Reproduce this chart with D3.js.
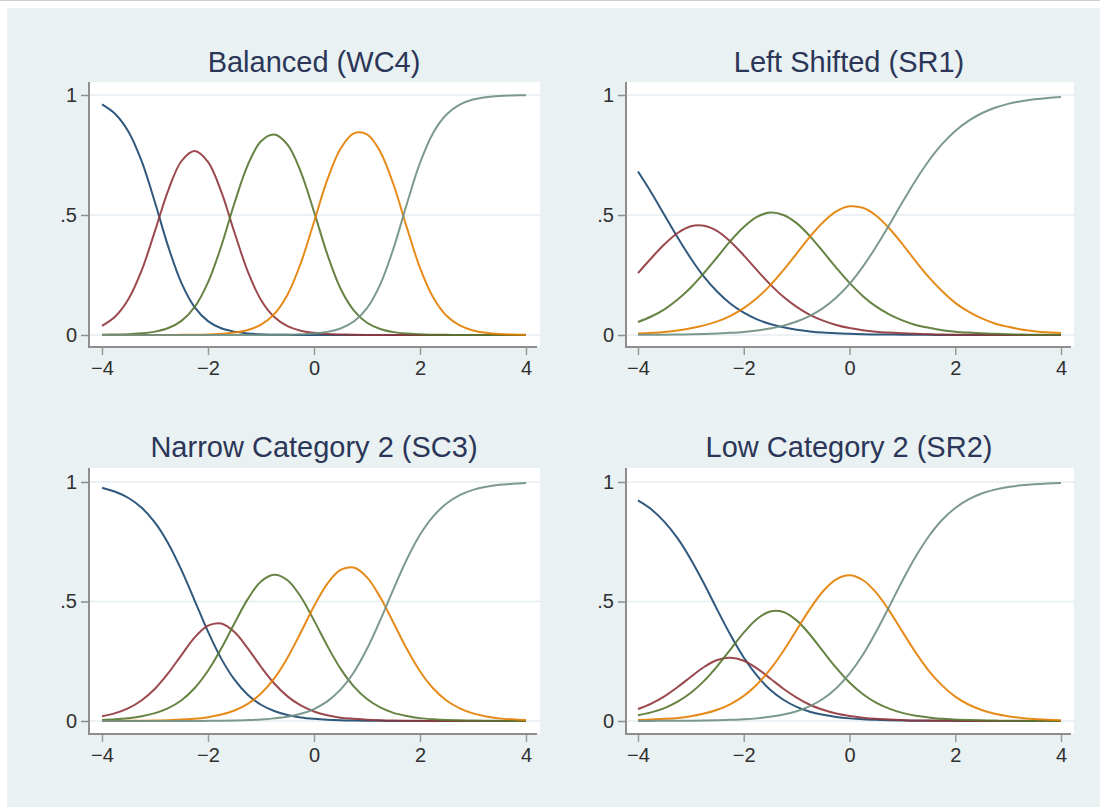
<!DOCTYPE html>
<html><head><meta charset="utf-8">
<script src="https://cdn.jsdelivr.net/npm/d3@7"></script>
<style>html,body{margin:0;padding:0;background:#fff;} svg{display:block;}</style>
</head><body><svg id="chart" width="1100" height="807"></svg>
<script>
// ---------------- DATA ----------------
const theta = [-4,-3.75,-3.5,-3.25,-3,-2.75,-2.5,-2.25,-2,-1.75,-1.5,-1.25,-1,-0.75,-0.5,-0.25,0,0.25,0.5,0.75,1,1.25,1.5,1.75,2,2.25,2.5,2.75,3,3.25,3.5,3.75,4];
const panelTitles = ["Balanced (WC4)", "Left Shifted (SR1)", "Narrow Category 2 (SC3)", "Low Category 2 (SR2)"];
const categories = ["Category 0", "Category 1", "Category 2", "Category 3", "Category 4"];
const xTicks = [-4, -2, 0, 2, 4];
const yTicks = [0, 0.5, 1];
const yTickLabels = ["0", ".5", "1"];

// Balanced (WC4)
const wc4Cat0 = [0.961,0.921,0.847,0.723,0.552,0.368,0.216,0.115,0.058,0.028,0.014,0.006,0.003,0.001,0.001,0,0,0,0,0,0,0,0,0,0,0,0,0,0,0,0,0,0];
const wc4Cat1 = [0.038,0.077,0.150,0.270,0.434,0.603,0.725,0.767,0.721,0.597,0.427,0.265,0.146,0.075,0.037,0.018,0.009,0.004,0.002,0.001,0,0,0,0,0,0,0,0,0,0,0,0,0];
const wc4Cat2 = [0.001,0.002,0.003,0.007,0.014,0.029,0.059,0.117,0.219,0.370,0.550,0.708,0.807,0.835,0.793,0.680,0.514,0.337,0.194,0.103,0.051,0.025,0.012,0.006,0.003,0.001,0.001,0,0,0,0,0,0];
const wc4Cat3 = [0,0,0,0,0,0,0.001,0.001,0.002,0.005,0.010,0.021,0.043,0.087,0.168,0.299,0.471,0.646,0.776,0.840,0.836,0.764,0.627,0.449,0.280,0.156,0.080,0.040,0.019,0.009,0.004,0.002,0.001];
const wc4Cat4 = [0,0,0,0,0,0,0,0,0,0,0,0,0,0.001,0.001,0.003,0.006,0.013,0.027,0.056,0.112,0.211,0.361,0.545,0.717,0.843,0.919,0.960,0.981,0.991,0.996,0.998,0.999];

// Left Shifted (SR1)
const sr1Cat0 = [0.681,0.594,0.500,0.406,0.319,0.242,0.180,0.130,0.093,0.065,0.046,0.032,0.022,0.015,0.010,0.007,0.005,0.003,0.002,0.002,0.001,0.001,0.001,0,0,0,0,0,0,0,0,0,0];
const sr1Cat1 = [0.258,0.320,0.378,0.425,0.453,0.455,0.433,0.389,0.332,0.270,0.211,0.159,0.117,0.084,0.060,0.042,0.029,0.020,0.014,0.010,0.007,0.005,0.003,0.002,0.001,0.001,0.001,0,0,0,0,0,0];
const sr1Cat2 = [0.054,0.077,0.107,0.148,0.198,0.259,0.325,0.392,0.450,0.492,0.510,0.500,0.466,0.412,0.347,0.280,0.217,0.163,0.119,0.086,0.061,0.042,0.030,0.020,0.014,0.010,0.007,0.005,0.003,0.002,0.001,0.001,0.001];
const sr1Cat3 = [0.006,0.009,0.013,0.019,0.028,0.040,0.057,0.080,0.112,0.154,0.207,0.270,0.339,0.409,0.470,0.515,0.536,0.530,0.498,0.445,0.379,0.308,0.241,0.183,0.134,0.097,0.069,0.048,0.034,0.023,0.016,0.011,0.008];
const sr1Cat4 = [0.001,0.001,0.001,0.002,0.003,0.004,0.006,0.009,0.013,0.019,0.027,0.039,0.056,0.080,0.112,0.156,0.213,0.284,0.367,0.458,0.553,0.644,0.726,0.795,0.850,0.892,0.924,0.947,0.963,0.974,0.982,0.988,0.992];

// Narrow Category 2 (SC3)
const sc3Cat0 = [0.976,0.959,0.933,0.892,0.830,0.743,0.631,0.503,0.374,0.261,0.173,0.110,0.068,0.042,0.025,0.015,0.009,0.005,0.003,0.002,0.001,0.001,0,0,0,0,0,0,0,0,0,0,0];
const sc3Cat1 = [0.020,0.033,0.054,0.087,0.135,0.200,0.276,0.350,0.399,0.408,0.372,0.304,0.227,0.157,0.103,0.065,0.040,0.024,0.014,0.009,0.005,0.003,0.002,0.001,0.001,0,0,0,0,0,0,0,0];
const sc3Cat2 = [0.004,0.007,0.012,0.020,0.033,0.054,0.087,0.138,0.210,0.303,0.409,0.510,0.584,0.612,0.589,0.520,0.421,0.315,0.219,0.145,0.092,0.057,0.034,0.021,0.012,0.007,0.004,0.003,0.002,0.001,0.001,0,0];
const sc3Cat3 = [0,0,0.001,0.001,0.002,0.003,0.006,0.009,0.016,0.027,0.044,0.072,0.115,0.178,0.265,0.370,0.480,0.574,0.632,0.642,0.601,0.518,0.411,0.302,0.208,0.136,0.086,0.053,0.032,0.019,0.011,0.007,0.004];
const sc3Cat4 = [0,0,0,0,0,0,0,0,0.001,0.001,0.002,0.004,0.006,0.011,0.018,0.030,0.050,0.082,0.131,0.203,0.302,0.422,0.552,0.676,0.779,0.856,0.910,0.945,0.967,0.980,0.988,0.993,0.996];

// Low Category 2 (SR2)
const sr2Cat0 = [0.923,0.886,0.833,0.764,0.676,0.574,0.465,0.360,0.266,0.190,0.131,0.089,0.059,0.039,0.026,0.017,0.011,0.007,0.005,0.003,0.002,0.001,0.001,0.001,0,0,0,0,0,0,0,0,0];
const sr2Cat1 = [0.050,0.073,0.103,0.142,0.185,0.226,0.255,0.265,0.252,0.220,0.178,0.135,0.098,0.068,0.047,0.031,0.021,0.014,0.009,0.006,0.004,0.002,0.002,0.001,0.001,0,0,0,0,0,0,0,0];
const sr2Cat2 = [0.024,0.036,0.054,0.081,0.118,0.168,0.230,0.300,0.370,0.427,0.458,0.456,0.421,0.362,0.291,0.222,0.161,0.113,0.077,0.052,0.034,0.022,0.015,0.009,0.006,0.004,0.003,0.002,0.001,0.001,0,0,0];
const sr2Cat3 = [0.004,0.006,0.009,0.013,0.020,0.031,0.047,0.071,0.105,0.153,0.216,0.293,0.381,0.468,0.543,0.593,0.610,0.590,0.538,0.462,0.374,0.287,0.210,0.149,0.102,0.069,0.046,0.030,0.020,0.013,0.008,0.005,0.003];
const sr2Cat4 = [0,0,0.001,0.001,0.001,0.002,0.003,0.005,0.007,0.011,0.018,0.027,0.041,0.062,0.093,0.137,0.198,0.276,0.372,0.478,0.587,0.687,0.773,0.841,0.891,0.927,0.952,0.968,0.979,0.986,0.991,0.994,0.996];

const panelSeries = [
  [wc4Cat0, wc4Cat1, wc4Cat2, wc4Cat3, wc4Cat4],
  [sr1Cat0, sr1Cat1, sr1Cat2, sr1Cat3, sr1Cat4],
  [sc3Cat0, sc3Cat1, sc3Cat2, sc3Cat3, sc3Cat4],
  [sr2Cat0, sr2Cat1, sr2Cat2, sr2Cat3, sr2Cat4]
];

// ---------------- STYLE / LAYOUT ----------------
const seriesColors = ["#1a476f", "#90353b", "#55752f", "#e37e00", "#6e8e84"];
const colGeom = [
  {xr: [102, 526], box: [89, 540], titleX: 314},
  {xr: [638, 1061], box: [626, 1074], titleX: 849}
];
const rowGeom = [
  {yr: [335, 95], box: [82, 347], titleY: 72},
  {yr: [721, 482], box: [468, 734], titleY: 457}
];
const FONT = "'Liberation Sans', Arial, Helvetica, sans-serif";

const svg = d3.select("#chart");
svg.append("rect").attr("width", 1100).attr("height", 807).attr("fill", "#ffffff");
svg.append("line").attr("x1", 0).attr("x2", 1100).attr("y1", 0.5).attr("y2", 0.5)
  .attr("stroke", "#cfcfcf").attr("stroke-width", 1);
svg.append("rect").attr("x", 7).attr("y", 8).attr("width", 1093).attr("height", 799)
  .attr("fill", "#e9f1f3");

panelTitles.forEach((title, i) => {
  const cg = colGeom[i % 2], rg = rowGeom[Math.floor(i / 2)];
  const x = d3.scaleLinear().domain([-4, 4]).range(cg.xr);
  const y = d3.scaleLinear().domain([0, 1]).range(rg.yr);
  const g = svg.append("g");

  // plot region
  g.append("rect").attr("x", cg.box[0]).attr("y", rg.box[0])
    .attr("width", cg.box[1] - cg.box[0]).attr("height", rg.box[1] - rg.box[0])
    .attr("fill", "#ffffff");

  // gridlines
  g.selectAll("line.grid").data(yTicks).enter().append("line")
    .attr("class", "grid")
    .attr("x1", cg.box[0]).attr("x2", cg.box[1])
    .attr("y1", d => y(d)).attr("y2", d => y(d))
    .attr("stroke", "#e4edf0").attr("stroke-width", 1.5);

  // curves
  const line = d3.line()
    .x((d, k) => x(theta[k]))
    .y(d => y(d))
    .curve(d3.curveCatmullRom.alpha(0.5));
  panelSeries[i].forEach((vals, c) => {
    g.append("path").datum(vals)
      .attr("d", line)
      .attr("fill", "none")
      .attr("stroke", seriesColors[c])
      .attr("stroke-width", 2)
      .attr("stroke-linejoin", "round")
      .attr("opacity", 0.9)
      .append("title").text(categories[c]);
  });

  // y axis
  const yAxis = d3.axisLeft(y).tickValues(yTicks)
    .tickFormat((d, k) => yTickLabels[k]).tickSize(8).tickPadding(4);
  const ya = g.append("g").attr("transform", `translate(${cg.box[0]},0)`).call(yAxis);
  ya.select(".domain").remove();
  ya.selectAll(".tick line").attr("stroke", "#8e8e8e").attr("stroke-width", 1.5);
  ya.selectAll(".tick text").attr("fill", "#303030").style("font-family", FONT).style("font-size", "20px");
  g.append("line").attr("x1", cg.box[0]).attr("x2", cg.box[0])
    .attr("y1", rg.box[0]).attr("y2", rg.box[1] + 1)
    .attr("stroke", "#8e8e8e").attr("stroke-width", 2);

  // x axis
  const xAxis = d3.axisBottom(x).tickValues(xTicks)
    .tickFormat(d => d < 0 ? "\u2212" + Math.abs(d) : String(d)).tickSize(8).tickPadding(6);
  const xa = g.append("g").attr("transform", `translate(0,${rg.box[1]})`).call(xAxis);
  xa.select(".domain").remove();
  xa.selectAll(".tick line").attr("stroke", "#9a9a9a").attr("stroke-width", 1.5);
  xa.selectAll(".tick text").attr("fill", "#303030").style("font-family", FONT).style("font-size", "20px");
  g.append("line").attr("x1", cg.box[0] - 1).attr("x2", cg.box[1] - 3)
    .attr("y1", rg.box[1]).attr("y2", rg.box[1])
    .attr("stroke", "#8e8e8e").attr("stroke-width", 2);

  // title
  g.append("text").attr("x", cg.titleX).attr("y", rg.titleY)
    .attr("text-anchor", "middle")
    .style("font-family", FONT).style("font-size", "29px")
    .attr("fill", "#2b3658")
    .text(title);
});
</script>
</body></html>
